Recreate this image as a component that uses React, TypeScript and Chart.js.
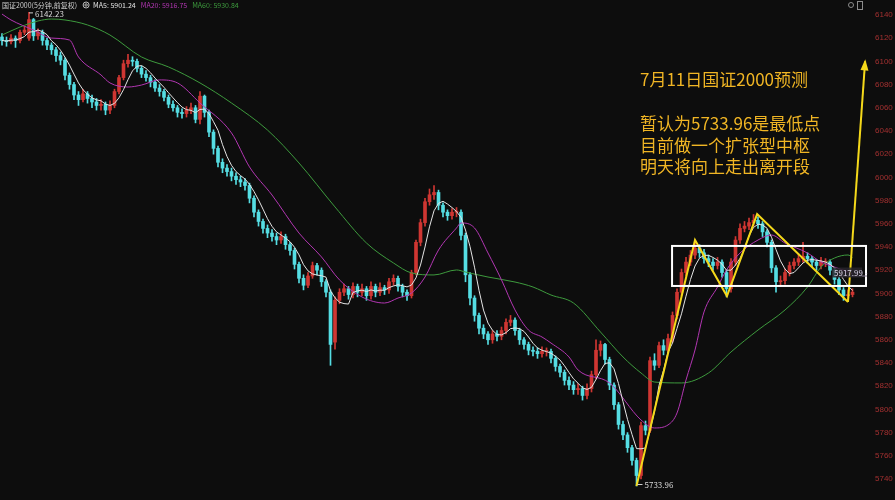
import React, { useEffect, useRef } from "react";
import { Chart, registerables } from "chart.js";

Chart.register(...registerables);

// ---- 5-minute candles (国证2000) ----
const opens = [
  6121, 6118, 6117, 6120, 6118, 6125, 6120, 6136, 6122, 6125,
  6118, 6114, 6110, 6105, 6101, 6088, 6080, 6071, 6067, 6072,
  6068, 6065, 6062, 6063, 6058, 6062, 6074, 6086, 6098, 6101,
  6100, 6094, 6089, 6086, 6082, 6077, 6074, 6069, 6063, 6060,
  6056, 6055, 6058, 6060, 6050, 6070, 6056, 6039, 6025, 6013,
  6008, 6005, 6001, 5998, 5996, 5993, 5982, 5970, 5962, 5956,
  5952, 5949, 5946, 5949, 5942, 5937, 5925, 5913, 5907, 5915,
  5924, 5920, 5910, 5901, 5858, 5894, 5901, 5904, 5899, 5906,
  5901, 5904, 5898, 5906, 5901, 5905, 5903, 5910, 5913, 5906,
  5901, 5898, 5918, 5944, 5961, 5979, 5985, 5987, 5976, 5970,
  5967, 5970, 5970, 5950, 5916, 5896, 5881, 5870, 5865, 5860,
  5865, 5863, 5868, 5875, 5877, 5868, 5860, 5856, 5851, 5850,
  5848, 5850, 5850, 5844, 5837, 5832, 5825, 5821, 5817, 5818,
  5812, 5818, 5830, 5851, 5856, 5843, 5821, 5804, 5787, 5778,
  5767, 5756, 5743, 5786, 5782, 5842, 5838, 5855, 5851, 5861,
  5881, 5901, 5918, 5927, 5933, 5939, 5935, 5930, 5927, 5924,
  5927, 5918, 5904, 5927, 5946, 5956, 5958, 5961, 5963, 5960,
  5953, 5944, 5922, 5910, 5911, 5918, 5924, 5927, 5930, 5932,
  5930, 5927, 5924, 5927, 5927, 5920, 5912, 5903, 5898, 5899,
];
const closes = [
  6118, 6117, 6120, 6118, 6125, 6127, 6136, 6122, 6125, 6118,
  6114, 6110, 6105, 6101, 6088, 6080, 6071, 6067, 6072, 6068,
  6065, 6062, 6063, 6058, 6062, 6074, 6086, 6098, 6101, 6100,
  6094, 6089, 6086, 6082, 6077, 6074, 6069, 6063, 6060, 6056,
  6055, 6058, 6060, 6050, 6070, 6056, 6039, 6025, 6013, 6008,
  6005, 6001, 5998, 5996, 5993, 5982, 5970, 5962, 5956, 5952,
  5949, 5946, 5949, 5942, 5937, 5925, 5913, 5907, 5915, 5924,
  5920, 5910, 5901, 5856, 5894, 5901, 5904, 5899, 5906, 5901,
  5904, 5898, 5906, 5901, 5905, 5903, 5910, 5913, 5906, 5901,
  5898, 5918, 5944, 5961, 5979, 5985, 5987, 5976, 5970, 5967,
  5970, 5970, 5950, 5916, 5896, 5881, 5870, 5865, 5860, 5865,
  5863, 5868, 5875, 5877, 5868, 5860, 5856, 5851, 5850, 5848,
  5850, 5850, 5844, 5837, 5832, 5825, 5821, 5817, 5818, 5812,
  5818, 5830, 5851, 5856, 5843, 5821, 5804, 5787, 5778, 5767,
  5756, 5743, 5786, 5782, 5842, 5838, 5855, 5851, 5861, 5881,
  5901, 5918, 5927, 5933, 5939, 5935, 5930, 5927, 5924, 5927,
  5918, 5904, 5927, 5946, 5956, 5958, 5961, 5963, 5960, 5953,
  5944, 5922, 5910, 5911, 5918, 5924, 5927, 5930, 5932, 5930,
  5927, 5924, 5927, 5927, 5920, 5912, 5903, 5898, 5899, 5901,
];
const highs = [
  6124, 6121, 6123, 6122, 6127, 6130, 6142.23, 6137, 6128, 6127,
  6120, 6116, 6112, 6108, 6103, 6090, 6082, 6074, 6076, 6074,
  6071, 6068, 6067, 6065, 6066, 6076, 6088, 6101, 6106, 6104,
  6102, 6096, 6092, 6088, 6084, 6080, 6076, 6071, 6066, 6062,
  6059, 6061, 6064, 6062, 6074, 6071, 6058, 6041, 6027, 6016,
  6011, 6008, 6004, 6001, 5999, 5995, 5984, 5972, 5964, 5959,
  5955, 5952, 5953, 5951, 5944, 5939, 5927, 5916, 5918, 5927,
  5926, 5922, 5912, 5903, 5897, 5904, 5908, 5906, 5909, 5908,
  5908, 5906, 5910, 5908, 5909, 5907, 5913, 5916, 5915, 5908,
  5903, 5920, 5946, 5964, 5982, 5990, 5993, 5989, 5978, 5972,
  5973, 5974, 5972, 5952, 5918, 5898, 5883, 5873, 5867, 5868,
  5868, 5871, 5878, 5881, 5879, 5870, 5862, 5858, 5854, 5853,
  5854, 5853, 5852, 5846, 5839, 5834, 5828, 5824, 5822, 5820,
  5822, 5833, 5860, 5859, 5857, 5845, 5823, 5806, 5790, 5780,
  5769, 5758, 5789, 5790, 5845, 5848, 5858, 5860, 5865, 5884,
  5904, 5921, 5931, 5937, 5946, 5942, 5938, 5933, 5930, 5931,
  5929, 5920, 5930, 5949, 5960, 5962, 5965, 5968, 5966, 5962,
  5955, 5946, 5924, 5915, 5921, 5927, 5930, 5934, 5944, 5935,
  5932, 5929, 5931, 5930, 5929, 5922, 5914, 5905, 5903, 5904,
];
const lows = [
  6114, 6113, 6115, 6112, 6116, 6123, 6118, 6118, 6119, 6114,
  6110, 6106, 6100, 6097, 6084, 6076, 6067, 6062, 6065, 6064,
  6060, 6058, 6058, 6054, 6055, 6060, 6072, 6084, 6095, 6096,
  6091, 6086, 6083, 6078, 6074, 6070, 6066, 6060, 6057, 6052,
  6051, 6052, 6055, 6047, 6046, 6052, 6035, 6020, 6009, 6004,
  6001, 5997, 5994, 5992, 5989, 5978, 5966, 5958, 5952, 5948,
  5945, 5942, 5943, 5938, 5933, 5921, 5909, 5903, 5905, 5913,
  5916, 5906, 5897, 5838, 5852, 5891, 5898, 5895, 5896, 5897,
  5898, 5894, 5895, 5897, 5898, 5899, 5900, 5907, 5902, 5897,
  5894, 5896, 5916, 5941, 5958, 5976, 5981, 5972, 5966, 5963,
  5964, 5966, 5946, 5910, 5890, 5876, 5865, 5861, 5856, 5857,
  5859, 5860, 5865, 5872, 5864, 5856, 5852, 5847, 5846, 5844,
  5845, 5846, 5840, 5833, 5828, 5821, 5817, 5813, 5813, 5808,
  5809, 5815, 5826, 5846, 5839, 5817, 5800, 5783, 5774, 5763,
  5752, 5733.96, 5740, 5778, 5780, 5834, 5836, 5847, 5849, 5858,
  5878, 5898, 5915, 5924, 5930, 5931, 5926, 5923, 5920, 5921,
  5914, 5897, 5901, 5924, 5943, 5953, 5955, 5958, 5956, 5949,
  5940, 5918, 5901, 5906, 5908, 5915, 5921, 5924, 5927, 5926,
  5923, 5920, 5921, 5923, 5916, 5908, 5899, 5894, 5893, 5897,
];

// ---- moving averages (candle index -> value) ----
const ma20At = [0, 2, 7, 11, 15, 17, 22, 24, 28, 31, 35, 39, 44, 51, 55, 60, 66, 71, 75, 80, 85, 88, 91, 94, 97, 101, 102, 105, 108, 111, 114, 117, 120, 122, 126, 128, 135, 142, 145, 148, 150, 152, 154, 156, 159, 161, 164, 168, 171, 174, 179, 182, 185, 188, 189];
const ma20 = [6140.8, 6135.7, 6127, 6120.1, 6118.4, 6103.8, 6088.3, 6081.4, 6077.9, 6079.6, 6084, 6081.4, 6064.1, 6038.3, 6009, 5984.8, 5952, 5931.4, 5911.6, 5896.9, 5891.7, 5896, 5900.3, 5914.1, 5937.4, 5956.4, 5960.7, 5956.4, 5934.8, 5911.6, 5885.7, 5868.4, 5862.4, 5857.2, 5845.2, 5834, 5822.8, 5790.9, 5784, 5786.6, 5796.9, 5825.3, 5851.2, 5884, 5905.5, 5920.2, 5934.8, 5946, 5950.3, 5943.4, 5934.8, 5927.1, 5922.7, 5918.4, 5916.75];
const ma60At = [0, 4, 8, 11, 14, 19, 24, 31, 37, 44, 51, 59, 66, 74, 81, 87, 91, 96, 101, 103, 108, 114, 118, 122, 127, 133, 138, 142, 145, 151, 157, 162, 168, 174, 179, 182, 185, 188, 189];
const ma60 = [6122.7, 6129.6, 6134.8, 6136.5, 6135.7, 6131.4, 6122.7, 6103.8, 6095.2, 6081.4, 6064.1, 6040.8, 6012.4, 5974.5, 5943.4, 5926.2, 5917.6, 5915.9, 5920.2, 5918.4, 5914.1, 5909.8, 5905.5, 5898.6, 5891.7, 5866.7, 5845.2, 5831.4, 5823.6, 5822.8, 5831.4, 5849.5, 5868.4, 5885.7, 5905.5, 5922.7, 5930.5, 5933.1, 5930.84];

// ---- hand-drawn annotation (zig-zag, arrow, box) ----
const zigAt = [141, 154, 161.1, 167.8, 188];
const zigVal = [5733.96, 5946, 5897.7, 5968.4, 5892.6];
const arrowAt = [188, 191.8];
const arrowVal = [5892.6, 6100];
const boxAt = [148.9, 192];
const boxVal = [5906.4, 5940.9];

const yTicks = [5740, 5760, 5780, 5800, 5820, 5840, 5860, 5880, 5900, 5920, 5940, 5960, 5980, 6000, 6020, 6040, 6060, 6080, 6100, 6120, 6140];

const headerName = "国证2000(5分钟,前复权)";
const headerMA = ["MA5: 5901.24", "MA20: 5916.75", "MA60: 5930.84"];
const noteLines = ["7月11日国证2000预测", "暂认为5733.96是最低点", "目前做一个扩张型中枢", "明天将向上走出离开段"];
const highLabel = "6142.23";
const lowLabel = "5733.96";
const lastPrice = 5917.99;

const UP = "#cf3632";
const DOWN = "#55dde3";
const MA5C = "#e4e4e4";
const MA20C = "#b236b2";
const MA60C = "#3d9a3d";
const ZIG = "#f4d81a";
const NOTE = "#f0b524";
const BG = "#0d0d0d";
const CJK = '"Noto Sans CJK SC", "Noto Sans", sans-serif';

export default function App() {
  const ref = useRef<HTMLCanvasElement>(null);

  useEffect(() => {
    const canvas = ref.current;
    if (!canvas) return;
    const idx = closes.map((_, i) => i);
    const colors = closes.map((c, i) => (c >= opens[i] ? UP : DOWN));
    const ma5 = closes.map((_, i) => {
      const s = closes.slice(Math.max(0, i - 4), i + 1);
      return s.reduce((a, b) => a + b, 0) / s.length;
    });

    const overlay = {
      id: "overlay",
      beforeDraw(chart: any) {
        const c = chart.ctx;
        c.save();
        c.fillStyle = BG;
        c.fillRect(0, 0, chart.width, chart.height);
        c.restore();
      },
      afterDatasetsDraw(chart: any) {
        const c = chart.ctx;
        const x = chart.scales.x;
        const y = chart.scales.y;
        c.save();
        // box
        const bx1 = x.getPixelForValue(boxAt[0]);
        const bx2 = x.getPixelForValue(boxAt[1]);
        const by1 = y.getPixelForValue(boxVal[1]);
        const by2 = y.getPixelForValue(boxVal[0]);
        c.strokeStyle = "#ffffff";
        c.lineWidth = 2;
        c.strokeRect(bx1, by1, bx2 - bx1, by2 - by1);

        // arrow head
        const sx = x.getPixelForValue(arrowAt[0]);
        const sy = y.getPixelForValue(arrowVal[0]);
        const tx = x.getPixelForValue(arrowAt[1]);
        const ty = y.getPixelForValue(arrowVal[1]);
        const ang = Math.atan2(ty - sy, tx - sx);
        c.fillStyle = ZIG;
        c.beginPath();
        c.moveTo(tx + Math.cos(ang) * 2, ty + Math.sin(ang) * 2);
        c.lineTo(tx - Math.cos(ang) * 9 + Math.cos(ang + Math.PI / 2) * 4, ty - Math.sin(ang) * 9 + Math.sin(ang + Math.PI / 2) * 4);
        c.lineTo(tx - Math.cos(ang) * 9 - Math.cos(ang + Math.PI / 2) * 4, ty - Math.sin(ang) * 9 - Math.sin(ang + Math.PI / 2) * 4);
        c.closePath();
        c.fill();

        // high / low labels
        const hi = highs.indexOf(Math.max(...highs));
        const lo = lows.indexOf(Math.min(...lows));
        const hx = x.getPixelForValue(hi);
        const hy = y.getPixelForValue(highs[hi]);
        c.strokeStyle = "#cfcfcf";
        c.lineWidth = 1;
        c.beginPath();
        c.moveTo(hx, hy + 0.5);
        c.lineTo(hx + 4, hy + 0.5);
        c.stroke();
        c.font = "8px " + CJK;
        c.fillStyle = "#d6d6d6";
        c.textBaseline = "middle";
        c.textAlign = "left";
        c.fillText(highLabel, hx + 6, hy + 2);
        const lx = x.getPixelForValue(lo);
        const ly = y.getPixelForValue(lows[lo]);
        c.beginPath();
        c.moveTo(lx + 1, ly - 1.5);
        c.lineTo(lx + 6, ly - 1.5);
        c.stroke();
        c.fillText(lowLabel, lx + 8, ly - 1);

        // last price tag
        const py = y.getPixelForValue(lastPrice);
        c.strokeStyle = "#8a7f96";
        c.beginPath();
        c.moveTo(x.getPixelForValue(186), py + 3.5);
        c.lineTo(chart.chartArea.right, py + 3.5);
        c.stroke();
        c.fillStyle = "rgba(40,36,44,0.85)";
        c.fillRect(832, py - 5, 30, 10);
        c.fillStyle = "#d9d2e6";
        c.fillText(lastPrice.toFixed(2) + " -", 834, py);

        // header, laid out left to right
        c.font = "7px " + CJK;
        let hxp = 2;
        c.fillStyle = "#cfcfcf";
        c.fillText(headerName, hxp, 5);
        hxp += c.measureText(headerName).width + 6;
        c.strokeStyle = "#bdbdbd";
        c.beginPath();
        c.arc(hxp + 3, 5, 3, 0, Math.PI * 2);
        c.stroke();
        c.beginPath();
        c.arc(hxp + 3, 5, 1.2, 0, Math.PI * 2);
        c.stroke();
        hxp += 10;
        const maColors = [MA5C, MA20C, MA60C];
        headerMA.forEach((t, k) => {
          c.fillStyle = maColors[k];
          c.fillText(t, hxp, 5);
          hxp += c.measureText(t).width + 5;
        });

        // top-right icons
        c.strokeStyle = "#8c8c8c";
        c.beginPath();
        c.arc(851, 5, 2.5, 0, Math.PI * 2);
        c.stroke();
        c.strokeRect(857.5, 1.5, 5, 8);

        // note text
        c.font = "17px " + CJK;
        c.fillStyle = NOTE;
        const noteY = [80, 124, 146, 167];
        noteLines.forEach((t, k) => c.fillText(t, 640, noteY[k]));
        c.restore();
      },
    };

    const chart = new Chart(canvas, {
      type: "bar",
      data: {
        datasets: [
          {
            type: "line",
            label: "arrow",
            data: arrowAt.map((v, k) => ({ x: v, y: arrowVal[k] })),
            borderColor: ZIG,
            borderWidth: 2,
            pointRadius: 0,
            clip: false,
            order: 0,
          } as any,
          {
            type: "line",
            label: "zigzag",
            data: zigAt.map((v, k) => ({ x: v, y: zigVal[k] })),
            borderColor: ZIG,
            borderWidth: 2,
            pointRadius: 0,
            clip: false,
            order: 1,
          } as any,
          {
            type: "line",
            label: "MA5",
            data: idx.map((i) => ({ x: i, y: ma5[i] })),
            borderColor: MA5C,
            borderWidth: 1,
            pointRadius: 0,
            order: 3,
          } as any,
          {
            type: "line",
            label: "MA20",
            data: ma20At.map((v, k) => ({ x: v, y: ma20[k] })),
            borderColor: MA20C,
            borderWidth: 1,
            pointRadius: 0,
            cubicInterpolationMode: "monotone",
            order: 4,
          } as any,
          {
            type: "line",
            label: "MA60",
            data: ma60At.map((v, k) => ({ x: v, y: ma60[k] })),
            borderColor: MA60C,
            borderWidth: 1,
            pointRadius: 0,
            cubicInterpolationMode: "monotone",
            order: 5,
          } as any,
          {
            type: "bar",
            label: "body",
            data: idx.map((i) => ({ x: i, y: [opens[i], closes[i]] })),
            backgroundColor: colors,
            borderWidth: 0,
            barThickness: 3,
            minBarLength: 1,
            grouped: false,
            order: 9,
          } as any,
          {
            type: "bar",
            label: "wick",
            data: idx.map((i) => ({ x: i, y: [lows[i], highs[i]] })),
            backgroundColor: colors,
            borderWidth: 0,
            barThickness: 1,
            grouped: false,
            order: 10,
          } as any,
        ],
      },
      options: {
        animation: false,
        responsive: false,
        devicePixelRatio: 1,
        events: [],
        layout: { padding: 0 },
        plugins: { legend: { display: false }, tooltip: { enabled: false } },
        scales: {
          x: {
            type: "linear",
            min: -0.444,
            max: 192.22,
            display: false,
            offset: false,
          },
          y: {
            type: "linear",
            position: "right",
            min: 5721.9,
            max: 6152.9,
            grid: { display: false, drawTicks: false },
            border: { display: false },
            ticks: {
              color: "#a33030",
              font: { size: 8, family: '"Liberation Sans", Arial, sans-serif' },
              padding: 8,
              autoSkip: false,
              callback: (v: any) => String(v),
            },
            afterBuildTicks: (s: any) => {
              s.ticks = yTicks.map((v) => ({ value: v }));
            },
            afterFit: (s: any) => {
              s.width = 28;
              s.paddingTop = 0;
              s.paddingBottom = 0;
            },
          },
        },
      } as any,
      plugins: [overlay],
    });
    return () => chart.destroy();
  }, []);

  return (
    <div style={{ position: "fixed", left: 0, top: 0, width: 895, height: 500, background: BG }}>
      <canvas ref={ref} width={895} height={500} style={{ display: "block" }} />
    </div>
  );
}
